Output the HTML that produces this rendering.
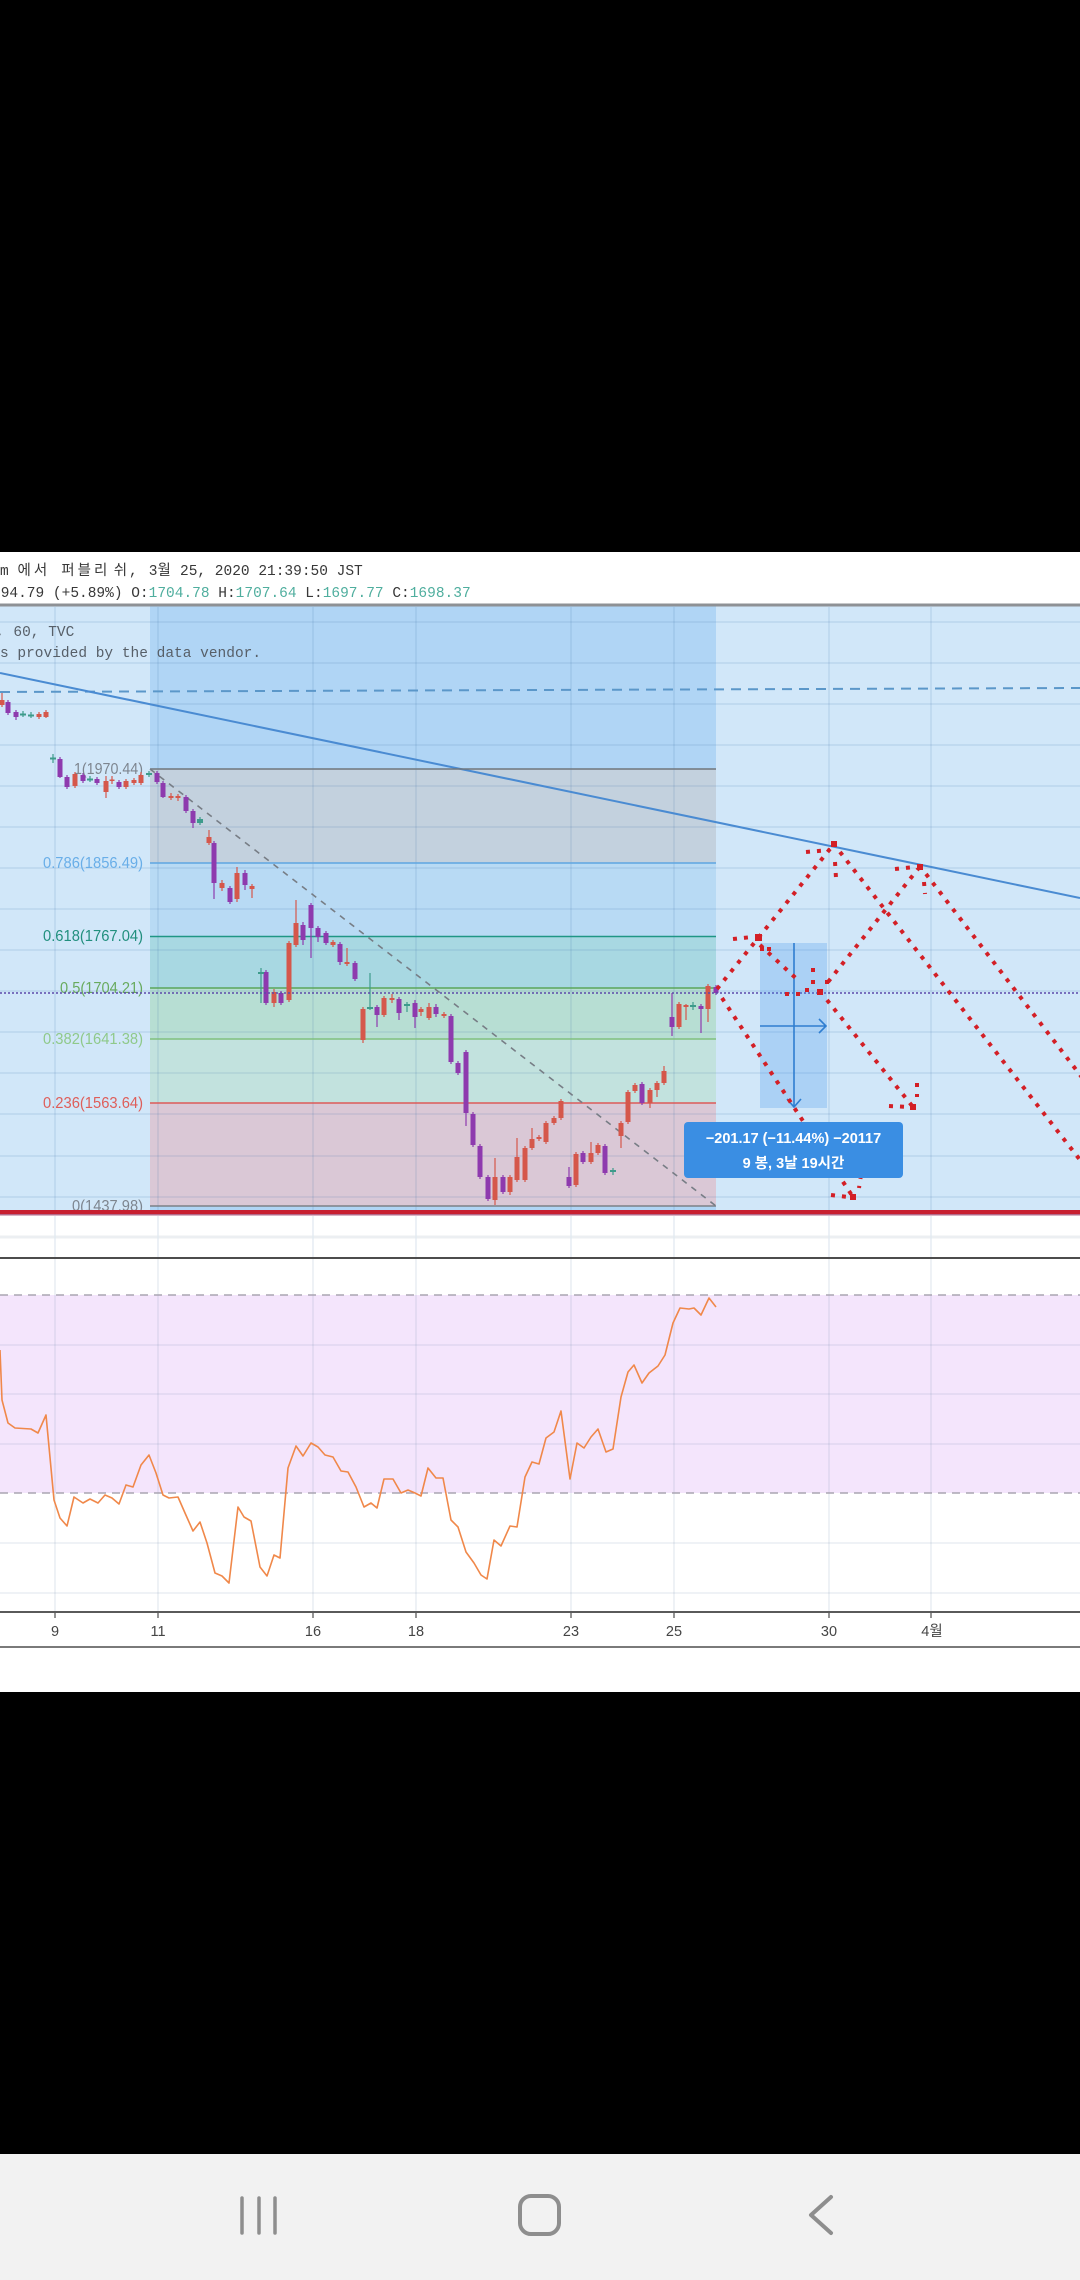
<!DOCTYPE html>
<html><head><meta charset="utf-8"><title>chart</title>
<style>
html,body{margin:0;padding:0;background:#000;width:1080px;height:2280px;overflow:hidden}
svg{display:block}
</style></head><body>
<svg width="1080" height="2280" viewBox="0 0 1080 2280" xmlns="http://www.w3.org/2000/svg">
<rect width="1080" height="2280" fill="#000"/>
<rect y="552" width="1080" height="1140" fill="#fff"/>

<!-- header -->
<g font-family="'Liberation Mono','Noto Sans CJK KR',monospace" font-size="14.5" fill="#383838">
<text y="575"><tspan x="0">m</tspan><tspan x="17.5" letter-spacing="3">에서</tspan><tspan x="61.3" letter-spacing="3">퍼블리</tspan><tspan x="113.8">쉬</tspan><tspan x="129">,</tspan><tspan x="148.8">3</tspan><tspan x="157.5">월</tspan><tspan x="180">25, 2020 21:39:50 JST</tspan></text>
<text x="-8" y="597">+94.79 (+5.89%) O:<tspan fill="#4fae9e">1704.78</tspan> H:<tspan fill="#4fae9e">1707.64</tspan> L:<tspan fill="#4fae9e">1697.77</tspan> C:<tspan fill="#4fae9e">1698.37</tspan></text>
</g>
<rect y="603.5" width="1080" height="3" fill="#8e9195"/>

<!-- main pane backgrounds -->
<rect x="0" y="606.5" width="1080" height="604" fill="#d1e7f9"/>
<rect x="150" y="606.5" width="566" height="604" fill="#b0d5f5"/>
<rect x="150" y="769" width="566" height="94" fill="#c3d1de"/>
<rect x="150" y="863" width="566" height="73" fill="#b8daf4"/>
<rect x="150" y="936" width="566" height="52" fill="#a8d8e2"/>
<rect x="150" y="988" width="566" height="51" fill="#b7ded3"/>
<rect x="150" y="1039" width="566" height="64" fill="#c2e2de"/>
<rect x="150" y="1103" width="566" height="103" fill="#dac8d6"/>

<!-- grid main -->
<g stroke="rgba(60,110,165,0.17)" stroke-width="1.3">
<path d="M55 607V1210M158 607V1210M313 607V1210M416 607V1210M571 607V1210M674 607V1210M829 607V1210M931 607V1210"/>
<path d="M0 622H1080M0 663H1080M0 704H1080M0 745H1080M0 786H1080M0 827H1080M0 868H1080M0 909H1080M0 950H1080M0 991H1080M0 1032H1080M0 1073H1080M0 1114H1080M0 1156H1080M0 1197H1080"/>
</g>

<!-- chart text -->
<g font-family="'Liberation Mono',monospace" font-size="14.5" fill="#575f68">
<text x="-4" y="636">, 60, TVC</text>
<text x="0" y="657">s provided by the data vendor.</text>
</g>

<!-- trend + dashed line -->
<line x1="0" y1="692" x2="1080" y2="688" stroke="#5b97c9" stroke-width="2" stroke-dasharray="10 7"/>
<line x1="0" y1="673" x2="1080" y2="898" stroke="#4a8bd2" stroke-width="2"/>

<!-- fib lines -->
<g stroke-width="1.6">
<line x1="150" y1="769" x2="716" y2="769" stroke="#70767c"/>
<line x1="150" y1="863" x2="716" y2="863" stroke="#5ea6e2"/>
<line x1="150" y1="936.5" x2="716" y2="936.5" stroke="#1f9685"/>
<line x1="150" y1="988" x2="716" y2="988" stroke="#5aa65a"/>
<line x1="150" y1="1039" x2="716" y2="1039" stroke="#80c07e"/>
<line x1="150" y1="1103" x2="716" y2="1103" stroke="#dc5a58"/>
<line x1="150" y1="1206" x2="716" y2="1206" stroke="#7c8086"/>
</g>
<line x1="150" y1="769" x2="716" y2="1206" stroke="#777d85" stroke-width="1.6" stroke-dasharray="6 6"/>

<!-- fib labels -->
<g font-family="'Liberation Sans',sans-serif" font-size="15.5" text-anchor="end">
<text x="143" y="774" fill="#7d858f" textLength="69" lengthAdjust="spacingAndGlyphs">1(1970.44)</text>
<text x="143" y="868" fill="#69aee8" textLength="100" lengthAdjust="spacingAndGlyphs">0.786(1856.49)</text>
<text x="143" y="941" fill="#218f7e" textLength="100" lengthAdjust="spacingAndGlyphs">0.618(1767.04)</text>
<text x="143" y="993" fill="#68aa5e" textLength="83" lengthAdjust="spacingAndGlyphs">0.5(1704.21)</text>
<text x="143" y="1044" fill="#8fc98a" textLength="100" lengthAdjust="spacingAndGlyphs">0.382(1641.38)</text>
<text x="143" y="1108" fill="#de5e5a" textLength="100" lengthAdjust="spacingAndGlyphs">0.236(1563.64)</text>
<text x="143" y="1211" fill="#7d858f" textLength="71" lengthAdjust="spacingAndGlyphs">0(1437.98)</text>
</g>

<!-- candles -->
<g stroke-width="1.2" fill="none">
<path stroke="#8e3aae" d="M8 700V715M16 710V720M60 757V778M67 775V789M83 773V783M97 777V785M119 780V789M157 771V784M163 781V798M186 795V813M193 809V828M214 841V899M230 886V904M245 870V890M266 970V1005M281 991V1005M303 922V945M311 903V958M318 926V942M326 931V945M340 942V965M355 961V981M377 1005V1027M399 997V1020M415 1000V1028M436 1004V1017M451 1014V1064M458 1061V1075M466 1050V1126M473 1112V1147M480 1144V1179M488 1175V1201M503 1175V1194M569 1167V1188M583 1151V1164M605 1144V1175M642 1082V1105M672 993V1036M701 1004V1033M716 985V995"/>
<path stroke="#d5574b" d="M2 693V707M39 712V719M46 710V718M75 772V788M106 776V798M112 776V784M126 779V789M134 778V785M141 772V785M171 793V800M178 794V801M209 830V845M222 880V891M237 867V902M252 884V898M274 989V1007M289 941V1002M296 900V947M333 940V947M347 948V966M363 1007V1043M384 996V1017M392 994V1003M421 1007V1016M429 1003V1020M444 1012V1018M495 1158V1205M510 1175V1195M517 1138V1182M525 1146V1182M532 1128V1150M539 1135V1141M546 1121V1144M554 1116V1125M561 1099V1120M576 1152V1187M591 1142V1164M598 1143V1155M621 1121V1148M628 1090V1124M635 1083V1093M650 1088V1108M657 1081V1097M664 1066V1085M679 1002V1029M686 1004V1020M708 984V1022"/>
<path stroke="#3d9b8b" d="M23 711V717M31 712V718M53 754V763M90 776V782M149 771V777M200 817V825M261 968V1003M370 973V1010M407 1002V1012M613 1168V1175M693 1002V1010"/>
</g>
<g fill="#8e3aae">
<rect x="5.5" y="702" width="5" height="11"/><rect x="13.5" y="712" width="5" height="5"/><rect x="57.5" y="759" width="5" height="18"/><rect x="64.5" y="777" width="5" height="10"/><rect x="80.5" y="775" width="5" height="6"/><rect x="94.5" y="779" width="5" height="4"/><rect x="116.5" y="782" width="5" height="5"/><rect x="154.5" y="773" width="5" height="9"/><rect x="160.5" y="783" width="5" height="14"/><rect x="183.5" y="797" width="5" height="14"/><rect x="190.5" y="811" width="5" height="12"/><rect x="211.5" y="843" width="5" height="40"/><rect x="227.5" y="888" width="5" height="14"/><rect x="242.5" y="873" width="5" height="12"/><rect x="263.5" y="972" width="5" height="31"/><rect x="278.5" y="993" width="5" height="10"/><rect x="300.5" y="925" width="5" height="15"/><rect x="308.5" y="905" width="5" height="23"/><rect x="315.5" y="928" width="5" height="9"/><rect x="323.5" y="933" width="5" height="10"/><rect x="337.5" y="944" width="5" height="18"/><rect x="352.5" y="963" width="5" height="16"/><rect x="374.5" y="1007" width="5" height="8"/><rect x="396.5" y="999" width="5" height="14"/><rect x="412.5" y="1003" width="5" height="14"/><rect x="433.5" y="1007" width="5" height="7"/><rect x="448.5" y="1016" width="5" height="46"/><rect x="455.5" y="1063" width="5" height="10"/><rect x="463.5" y="1052" width="5" height="61"/><rect x="470.5" y="1114" width="5" height="31"/><rect x="477.5" y="1146" width="5" height="31"/><rect x="485.5" y="1177" width="5" height="22"/><rect x="500.5" y="1177" width="5" height="15"/><rect x="566.5" y="1177" width="5" height="9"/><rect x="580.5" y="1153" width="5" height="9"/><rect x="602.5" y="1146" width="5" height="27"/><rect x="639.5" y="1084" width="5" height="19"/><rect x="669.5" y="1017" width="5" height="10"/><rect x="698.5" y="1006" width="5" height="3"/><rect x="713.5" y="987" width="5" height="6"/>
</g>
<g fill="#d5574b">
<rect x="-0.5" y="700" width="5" height="5"/><rect x="36.5" y="714" width="5" height="3"/><rect x="43.5" y="712" width="5" height="5"/><rect x="72.5" y="774" width="5" height="12"/><rect x="103.5" y="781" width="5" height="11"/><rect x="109.5" y="779.5" width="5" height="1.5"/><rect x="123.5" y="781" width="5" height="6"/><rect x="131.5" y="780" width="5" height="3"/><rect x="138.5" y="775" width="5" height="8"/><rect x="168.5" y="796" width="5" height="2"/><rect x="175.5" y="796" width="5" height="2"/><rect x="206.5" y="837" width="5" height="6"/><rect x="219.5" y="883" width="5" height="5"/><rect x="234.5" y="873" width="5" height="26"/><rect x="249.5" y="886" width="5" height="3"/><rect x="271.5" y="992" width="5" height="11"/><rect x="286.5" y="943" width="5" height="57"/><rect x="293.5" y="923" width="5" height="22"/><rect x="330.5" y="942" width="5" height="3"/><rect x="344.5" y="962" width="5" height="2"/><rect x="360.5" y="1009" width="5" height="31"/><rect x="381.5" y="998" width="5" height="17"/><rect x="389.5" y="998" width="5" height="2"/><rect x="418.5" y="1009" width="5" height="3"/><rect x="426.5" y="1007" width="5" height="11"/><rect x="441.5" y="1014" width="5" height="2"/><rect x="492.5" y="1177" width="5" height="23"/><rect x="507.5" y="1177" width="5" height="15"/><rect x="514.5" y="1157" width="5" height="23"/><rect x="522.5" y="1148" width="5" height="32"/><rect x="529.5" y="1139" width="5" height="9"/><rect x="536.5" y="1137" width="5" height="2"/><rect x="543.5" y="1123" width="5" height="19"/><rect x="551.5" y="1118" width="5" height="5"/><rect x="558.5" y="1101" width="5" height="17"/><rect x="573.5" y="1154" width="5" height="31"/><rect x="588.5" y="1153" width="5" height="9"/><rect x="595.5" y="1145" width="5" height="8"/><rect x="618.5" y="1123" width="5" height="13"/><rect x="625.5" y="1092" width="5" height="30"/><rect x="632.5" y="1085" width="5" height="6"/><rect x="647.5" y="1090" width="5" height="13"/><rect x="654.5" y="1083" width="5" height="7"/><rect x="661.5" y="1071" width="5" height="12"/><rect x="676.5" y="1004" width="5" height="23"/><rect x="683.5" y="1005" width="5" height="2"/><rect x="705.5" y="986" width="5" height="23"/>
</g>
<g fill="#3d9b8b">
<rect x="20" y="713.5" width="6" height="2"/><rect x="28" y="714.5" width="6" height="2"/><rect x="50" y="757.5" width="6" height="2"/><rect x="87" y="778.5" width="6" height="2"/><rect x="146" y="773" width="6" height="2"/><rect x="197" y="819" width="6" height="4"/><rect x="258" y="972" width="6" height="2"/><rect x="367" y="1007" width="6" height="2"/><rect x="404" y="1004" width="6" height="2"/><rect x="610" y="1170" width="6" height="2"/><rect x="690" y="1005" width="6" height="2"/>
</g>

<!-- current price dotted -->
<line x1="0" y1="993" x2="1080" y2="993" stroke="#5b48aa" stroke-width="1.6" stroke-dasharray="2 2"/>

<!-- measurement -->
<rect x="760" y="943" width="67" height="165" fill="rgba(60,145,235,0.26)"/>
<g stroke="#2f7ed0" stroke-width="1.6" fill="none">
<path d="M794 943V1107M787 1099L794 1107L801 1099"/>
<path d="M760 1026H826M819 1019L826 1026L819 1033"/>
</g>

<!-- red dotted paths -->
<g stroke="#d31f26" stroke-width="4" stroke-dasharray="4 7" fill="none">
<path d="M717 989L834 844"/>
<path d="M840 852L1084 1165"/>
<path d="M926 874L1084 1080"/>
<path d="M828 982L918 869"/>
<path d="M760 945L800 982"/>
<path d="M827 1000L913 1107"/>
<path d="M722 998L853 1197"/>
<path d="M806 852L830 850"/>
<path d="M835 862L836 878"/>
<path d="M895 869L915 867"/>
<path d="M924 882L925 894"/>
<path d="M733 939L752 937"/>
<path d="M889 1106L909 1107"/>
<path d="M917 1083L917 1097"/>
<path d="M831 1195L848 1197"/>
<path d="M861 1175L859 1188"/>
</g>
<g fill="#d31f26">
<rect x="785" y="992" width="4" height="4"/><rect x="796" y="992" width="4" height="4"/><rect x="805" y="988" width="4" height="4"/><rect x="811" y="980" width="4" height="4"/><rect x="811" y="968" width="4" height="4"/><rect x="817" y="989" width="6" height="6"/><rect x="825" y="980" width="4" height="4"/><rect x="760" y="947" width="4" height="4"/><rect x="767" y="947" width="4" height="4"/>
<rect x="831" y="841" width="6" height="6"/><rect x="755" y="934" width="7" height="7"/><rect x="917" y="864" width="6" height="6"/><rect x="850" y="1194" width="6" height="6"/><rect x="910" y="1104" width="6" height="6"/>
</g>

<!-- measurement label -->
<rect x="684" y="1122" width="219" height="56" rx="4" fill="#3a8ee3"/>
<g font-family="'Liberation Sans','Noto Sans CJK KR',sans-serif" font-size="14.5" font-weight="bold" fill="#fff" text-anchor="middle">
<text x="793.5" y="1143">−201.17 (−11.44%) −20117</text>
<text x="793.5" y="1168">9 봉, 3날 19시간</text>
</g>

<!-- red bottom line -->
<rect x="0" y="1210" width="1080" height="4" fill="#c81f30"/>
<rect x="0" y="1214" width="1080" height="1.5" fill="#b46a8a"/>

<!-- between panes -->
<rect x="0" y="1235.5" width="1080" height="3" fill="#eceff2"/>
<g stroke="#e1e9f0" stroke-width="1.3">
<path d="M55 1216V1257M158 1216V1257M313 1216V1257M416 1216V1257M571 1216V1257M674 1216V1257M829 1216V1257M931 1216V1257"/>
</g>
<rect x="0" y="1257" width="1080" height="2" fill="#4c4c4c"/>

<!-- RSI pane -->
<rect x="0" y="1295" width="1080" height="198" fill="#f4e5fc"/>
<g stroke="rgba(100,130,165,0.17)" stroke-width="1.3">
<path d="M0 1345H1080M0 1394H1080M0 1444H1080M0 1543H1080M0 1593H1080"/>
<path d="M55 1259V1612M158 1259V1612M313 1259V1612M416 1259V1612M571 1259V1612M674 1259V1612M829 1259V1612M931 1259V1612"/>
</g>
<g stroke="#aaa5b2" stroke-width="1.5" stroke-dasharray="8 6">
<line x1="0" y1="1295" x2="1080" y2="1295"/>
<line x1="0" y1="1493" x2="1080" y2="1493"/>
</g>
<polyline fill="none" stroke="#f0884a" stroke-width="1.6" stroke-linejoin="round" points="0,1350 2,1400 8,1423 15,1428 31,1429 38,1433 46,1415 54,1500 60,1518 67,1526 74,1497 83,1503 90,1499 98,1503 105,1495 112,1498 119,1504 126,1485 133,1487 141,1465 149,1455 156,1473 163,1495 169,1498 178,1497 185,1513 193,1531 200,1522 207,1543 215,1573 222,1576 229,1583 238,1507 244,1517 251,1521 260,1567 267,1576 274,1555 280,1558 288,1468 296,1446 303,1456 311,1443 318,1447 325,1455 333,1457 341,1471 348,1472 356,1487 364,1507 371,1503 377,1508 384,1479 393,1479 401,1493 408,1490 415,1493 421,1496 428,1468 436,1478 443,1478 451,1520 458,1527 466,1552 474,1563 481,1575 487,1579 494,1540 501,1546 510,1526 517,1527 525,1477 532,1462 539,1464 546,1438 554,1432 561,1411 570,1479 577,1443 584,1448 591,1437 598,1429 606,1452 613,1449 621,1397 628,1372 634,1365 642,1383 649,1373 658,1366 665,1355 673,1323 680,1308 689,1309 694,1308 701,1315 709,1298 716,1307"/>

<!-- x axis -->
<rect x="0" y="1611" width="1080" height="2" fill="#5a5a5a"/>
<g stroke="#5a5a5a" stroke-width="1.3">
<path d="M55 1612V1618M158 1612V1618M313 1612V1618M416 1612V1618M571 1612V1618M674 1612V1618M829 1612V1618M931 1612V1618"/>
</g>
<g font-family="'Liberation Sans','Noto Sans CJK KR',sans-serif" font-size="14.5" fill="#454545" text-anchor="middle">
<text x="55" y="1636">9</text>
<text x="158" y="1636">11</text>
<text x="313" y="1636">16</text>
<text x="416" y="1636">18</text>
<text x="571" y="1636">23</text>
<text x="674" y="1636">25</text>
<text x="829" y="1636">30</text>
<text x="932" y="1636">4월</text>
</g>
<rect x="0" y="1646" width="1080" height="2" fill="#7a7a7a"/>

<!-- nav bar -->
<rect x="0" y="2154" width="1080" height="126" fill="#f2f2f2"/>
<g stroke="#8e8e8e" stroke-linecap="round" fill="none">
<path stroke-width="3.5" d="M242 2198V2233M259 2198V2233M275 2198V2233"/>
<rect x="520" y="2196" width="39" height="38" rx="11" stroke-width="4"/>
<path stroke-width="4" stroke-linejoin="round" d="M831 2197L811 2215L831 2233"/>
</g>
</svg>
</body></html>
